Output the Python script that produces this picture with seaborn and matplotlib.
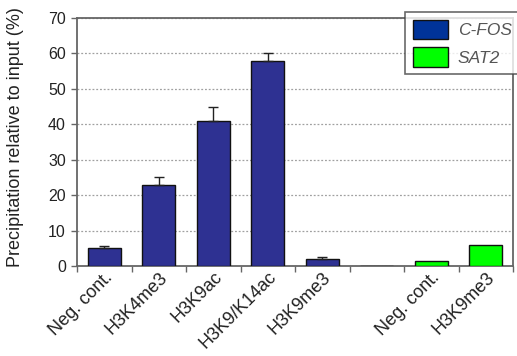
import matplotlib
matplotlib.use("Agg")
import matplotlib.pyplot as plt
from matplotlib.patches import Patch
from matplotlib.ticker import MultipleLocator, FixedLocator
import seaborn as sns
import pandas as pd
import numpy as np

keys = ["c_neg", "c_k4", "c_k9ac", "c_k9k14", "c_k9me3", "gap", "s_neg", "s_k9me3"]
labels = ["Neg. cont.", "H3K4me3", "H3K9ac", "H3K9/K14ac", "H3K9me3", "", "Neg. cont.", "H3K9me3"]
genes = ["C-FOS", "C-FOS", "C-FOS", "C-FOS", "C-FOS", "C-FOS", "SAT2", "SAT2"]
values = [5.0, 23.0, 41.0, 58.0, 2.0, 0.0, 1.5, 6.0]
errors = [0.6, 2.0, 4.0, 2.0, 0.6, 0.0, 0.0, 0.0]

colors = {"C-FOS": "#2E3192", "SAT2": "#00FF00"}
legend_colors = {"C-FOS": "#003399", "SAT2": "#00FF00"}

df = pd.DataFrame({"key": keys, "value": values, "gene": genes})

sns.set_style("white")
plt.rcParams["font.family"] = ["Liberation Sans", "DejaVu Sans"]

fig = plt.figure(figsize=(5.17, 3.56), dpi=100)
ax = fig.add_axes([77 / 517, 90 / 356, (513 - 77) / 517, (266 - 18) / 356])

sns.barplot(data=df, x="key", y="value", hue="gene", order=keys, palette=colors,
            dodge=False, width=0.6, saturation=1, edgecolor="#111111", linewidth=1.0,
            legend=False, ax=ax, zorder=3)

x = np.arange(len(keys))
err = np.array(errors)
mask = err > 0
ax.errorbar(x[mask], np.array(values)[mask], yerr=[np.zeros(mask.sum()), err[mask]],
            fmt="none", ecolor="#222222", elinewidth=1.0, capsize=3.5, capthick=1.0, zorder=4)

ax.set_xlim(-0.5, len(keys) - 0.5)
ax.set_ylim(0, 70)
ax.yaxis.set_major_locator(MultipleLocator(10))
ax.grid(axis="y", color="#a0a0a0", linestyle=(0, (1.5, 1.5)), linewidth=0.9, zorder=0)
ax.set_axisbelow(True)

ax.set_xticks(x)
ax.set_xticklabels(labels, rotation=45, ha="right", va="top", rotation_mode="anchor",
                   fontsize=13, color="#222222")
ax.xaxis.set_minor_locator(FixedLocator(np.arange(-0.5, len(keys), 1.0)))
ax.tick_params(axis="x", which="major", length=0, pad=2)
ax.tick_params(axis="x", which="minor", length=4, width=1.0, color="#666666", direction="out", bottom=True)
ax.tick_params(axis="y", which="major", length=4, width=1.0, color="#666666", direction="out",
               labelsize=11.5, labelcolor="#222222", left=True, pad=4)
ax.set_xlabel("")
ax.set_ylabel("Precipitation relative to input (%)", fontsize=13, labelpad=6, color="#222222")
ax.yaxis.set_label_coords(-0.122, 0.52)

for side in ["left", "bottom", "top", "right"]:
    ax.spines[side].set_visible(True)
    ax.spines[side].set_color("#666666")
    ax.spines[side].set_linewidth(1.3)

handles = [Patch(facecolor=legend_colors[g], edgecolor="#111111", linewidth=1.0) for g in ["C-FOS", "SAT2"]]
leg = fig.legend(handles, ["C-FOS", "SAT2"], loc="upper left",
                 bbox_to_anchor=(405 / 517, 1 - 12 / 356), bbox_transform=fig.transFigure,
                 borderaxespad=0, frameon=True, fancybox=False, shadow=False,
                 prop={"style": "italic", "size": 12.5}, handlelength=2.0, handleheight=1.35,
                 handletextpad=0.6, labelspacing=0.45, borderpad=0.45)
leg.get_frame().set_edgecolor("#444444")
leg.get_frame().set_linewidth(1.2)
for t in leg.get_texts():
    t.set_color("#555555")

fig.savefig("out.png", dpi=100)
